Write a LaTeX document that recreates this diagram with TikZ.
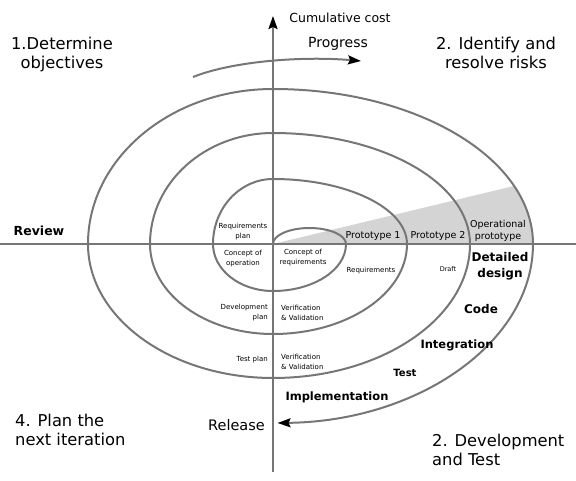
\documentclass[tikz,border=0pt]{standalone}
\usepackage{fontspec}
\setmainfont{DejaVu Sans}
\usetikzlibrary{arrows.meta}
\definecolor{lin}{RGB}{118,118,118}
\definecolor{wedgec}{RGB}{212,212,212}
\tikzset{
  sp/.style={draw=lin, line width=2pt},
  tipb/.style={-{Stealth[length=13pt,width=9pt,inset=2pt,color=black]}},
  small/.style={font=\fontsize{7}{10}\selectfont, align=center, inner sep=0pt},
  tiny/.style={font=\fontsize{6.5}{9}\selectfont, align=center, inner sep=0pt},
  mid/.style={font=\fontsize{9.5}{12}\selectfont, align=center, inner sep=0pt},
  phase/.style={font=\bfseries\fontsize{12}{16}\selectfont, align=center, inner sep=0pt},
  big/.style={font=\fontsize{16.3}{19}\selectfont, inner sep=0pt},
}
\begin{document}
\begin{tikzpicture}[x=1pt,y=1pt]
\useasboundingbox (-273,-236) rectangle (303,244);
% grey wedge
\fill[wedgec] (0,0) -- ({260*cos(22)},{155*sin(22)}) arc[start angle=22,end angle=0,x radius=260,y radius=155] -- cycle;
% axes
\coordinate (top) at (0,228);
\coordinate (bot) at (0,-228);
\coordinate (L) at (-273,0);
\coordinate (R) at (303,0);
\draw[sp, tipb] (bot) -- (top);
\draw[sp] (L) -- (R);
% spiral
\coordinate (O) at (0,0);
\draw[sp, tipb] (O) arc[start angle=180,end angle=0,x radius=36.5,y radius=16]
 arc[start angle=0,end angle=-90,x radius=73,y radius=47]
 arc[start angle=270,end angle=180,x radius=60,y radius=47]
 arc[start angle=180,end angle=90,x radius=60,y radius=65]
 arc[start angle=90,end angle=0,x radius=134,y radius=65]
 arc[start angle=0,end angle=-90,x radius=134,y radius=90]
 arc[start angle=270,end angle=180,x radius=123,y radius=90]
 arc[start angle=180,end angle=90,x radius=123,y radius=111]
 arc[start angle=90,end angle=0,x radius=197,y radius=111]
 arc[start angle=0,end angle=-90,x radius=197,y radius=134]
 arc[start angle=270,end angle=180,x radius=185,y radius=134]
 arc[start angle=180,end angle=90,x radius=185,y radius=155]
 arc[start angle=90,end angle=0,x radius=260,y radius=155]
 arc[start angle=0,end angle=-89,x radius=260,y radius=179];
% progress arrow
\coordinate (p0) at (-80,167);
\coordinate (p1) at (88,183);
\draw[sp, tipb] (p0) .. controls (-40,183) and (30,188) .. (p1);
% texts
\node[font=\fontsize{12.5}{14}\selectfont, inner sep=0pt] (cum) at (67,226) {Cumulative cost};
\node[font=\fontsize{14}{16}\selectfont, inner sep=0pt] (prog) at (65,200) {Progress};
\node[big, align=center] (q1) at (-211,189) {1.Determine\\objectives};
\node[big, align=center] (q2) at (223,191) {2. Identify and\\resolve risks};
\node[big, align=left, anchor=west] (q4) at (-258,-186) {4. Plan the\\next iteration};
\node[big, align=left, anchor=west] (q3) at (159,-206) {2. Development\\and Test};
\node[font=\bfseries\fontsize{12.5}{15}\selectfont, inner sep=0pt] (rev) at (-234,13) {Review};
\node[font=\fontsize{14.5}{16}\selectfont, inner sep=0pt, anchor=east] (rel) at (-8,-181) {Release};
\node[small] (rp) at (-30,12) {Requirements\\plan};
\node[small] (co) at (-30,-15) {Concept of\\operation};
\node[small] (cr) at (30,-14) {Concept of\\requirements};
\node[mid] (p1t) at (100,8) {Prototype 1};
\node[mid] (p2t) at (165,8) {Prototype 2};
\node[mid] (opt) at (225,13) {Operational\\prototype};
\node[small] (req) at (98,-27) {Requirements};
\node[tiny] (dr) at (175,-25) {Draft};
\node[phase] (dd) at (227,-22) {Detailed\\design};
\node[phase] (code) at (208,-65) {Code};
\node[phase, font=\bfseries\fontsize{11.5}{14}\selectfont] (integ) at (184,-101) {Integration};
\node[phase, font=\bfseries\fontsize{10}{12}\selectfont] (tst) at (132,-129) {Test};
\node[phase, font=\bfseries\fontsize{11.5}{14}\selectfont] (impl) at (64,-153) {Implementation};
\node[small, align=right, anchor=east] (dp) at (-5,-69) {Development\\plan};
\node[small, align=left, anchor=west] (vv1) at (8,-69) {Verification\\\& Validation};
\node[small, anchor=east] (tp) at (-5,-116) {Test plan};
\node[small, align=left, anchor=west] (vv2) at (8,-118) {Verification\\\& Validation};
\end{tikzpicture}
\end{document}
